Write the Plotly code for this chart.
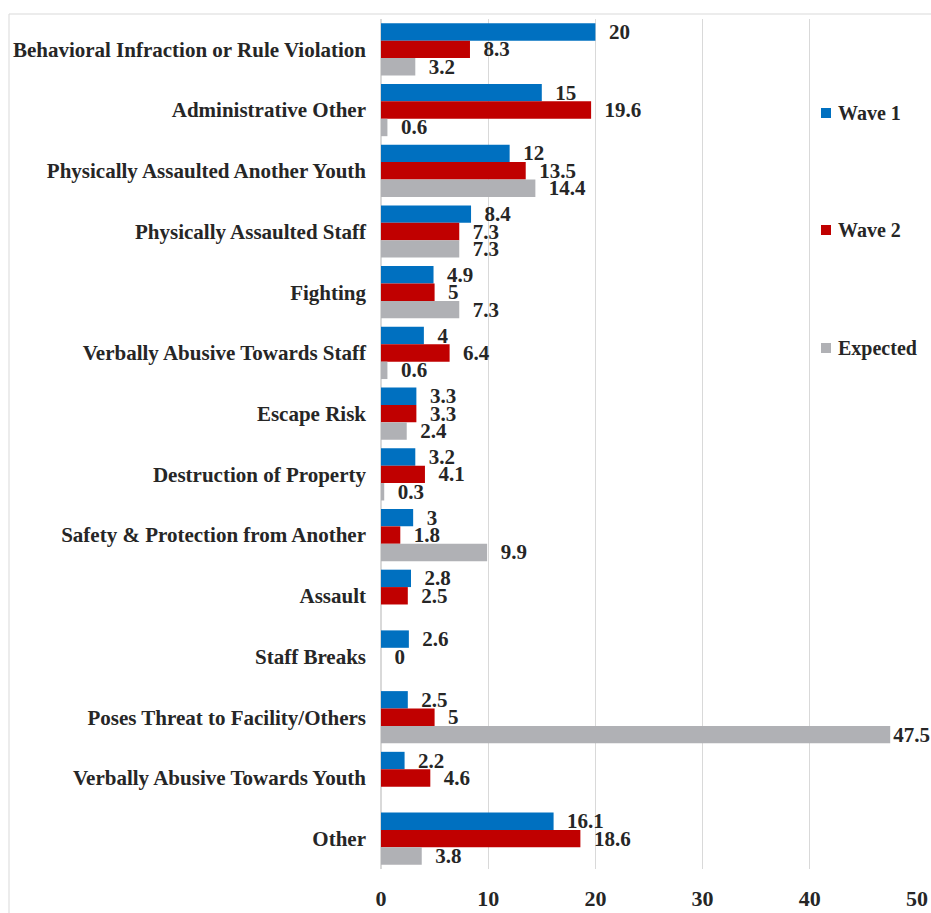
import plotly.graph_objects as go

categories = [
    "Behavioral Infraction or Rule Violation",
    "Administrative Other",
    "Physically Assaulted Another Youth",
    "Physically Assaulted Staff",
    "Fighting",
    "Verbally Abusive Towards Staff",
    "Escape Risk",
    "Destruction of Property",
    "Safety & Protection from Another",
    "Assault",
    "Staff Breaks",
    "Poses Threat to Facility/Others",
    "Verbally Abusive Towards Youth",
    "Other",
]
wave1 = [20, 15, 12, 8.4, 4.9, 4, 3.3, 3.2, 3, 2.8, 2.6, 2.5, 2.2, 16.1]
wave2 = [8.3, 19.6, 13.5, 7.3, 5, 6.4, 3.3, 4.1, 1.8, 2.5, 0, 5, 4.6, 18.6]
expected = [3.2, 0.6, 14.4, 7.3, 7.3, 0.6, 2.4, 0.3, 9.9, None, None, 47.5, None, 3.8]
x_ticks = [0, 10, 20, 30, 40, 50]
x_max = 50

FONT = "Liberation Serif"
TXT = "#262626"

series = [
    ("Wave 1", wave1, "#0070C0"),
    ("Wave 2", wave2, "#C00000"),
    ("Expected", expected, "#B0B1B5"),
]

# plot-area geometry (pixels) used to place the side key
W, H = 931, 913
ML, MR, MT, MB = 381, 14, 19, 44
PW, PH = W - ML - MR, H - MT - MB


def px_x(p):
    return (p - ML) / PW


def px_y(p):
    return 1 - (p - MT) / PH


fig = go.Figure()
for name, vals, color in series:
    # labels near the right edge sit tight against their bar
    templates = [
        "%{x}" if (v is not None and v > 0.9 * x_max) else "\u00a0\u00a0%{x}"
        for v in vals
    ]
    fig.add_trace(go.Bar(
        name=name,
        y=categories,
        x=vals,
        orientation="h",
        marker=dict(color=color, line=dict(width=0)),
        texttemplate=templates,
        textposition="outside",
        constraintext="none",
        cliponaxis=False,
        textfont=dict(family=FONT, size=21, color=TXT, weight="bold"),
        showlegend=False,
    ))

# side key: one coloured square and bold label per series, widely spaced
shapes = [dict(
    type="rect", xref="paper", yref="paper",
    x0=px_x(9), x1=1.06, y0=-0.08, y1=px_y(14),
    line=dict(color="#D9D9D9", width=1),
    fillcolor="rgba(0,0,0,0)",
    layer="below",
)]
annotations = []
key_rows = [113, 230, 348]
for (name, _, color), row in zip(series, key_rows):
    shapes.append(dict(
        type="rect", xref="paper", yref="paper",
        x0=px_x(821), x1=px_x(831), y0=px_y(row + 5), y1=px_y(row - 5),
        line=dict(width=0), fillcolor=color,
    ))
    annotations.append(dict(
        xref="paper", yref="paper", x=px_x(836), y=px_y(row),
        xanchor="left", yanchor="middle", showarrow=False,
        text=name,
        font=dict(family=FONT, size=20, color=TXT, weight="bold"),
    ))

fig.update_layout(
    width=W,
    height=H,
    margin=dict(l=ML, r=MR, t=MT, b=MB, autoexpand=False),
    paper_bgcolor="white",
    plot_bgcolor="white",
    barmode="group",
    bargap=0.14,
    bargroupgap=0,
    showlegend=False,
    font=dict(family=FONT, size=20, color=TXT, weight="bold"),
    xaxis=dict(
        range=[0, x_max],
        tickvals=x_ticks,
        showgrid=True,
        gridcolor="#D9D9D9",
        gridwidth=1,
        zeroline=True,
        zerolinecolor="#D9D9D9",
        showline=False,
        ticks="",
        automargin=False,
        ticklabelstandoff=14,
        tickfont=dict(family=FONT, size=22, color=TXT, weight="bold"),
    ),
    yaxis=dict(
        autorange="reversed",
        showgrid=False,
        ticks="",
        automargin=False,
        ticklabelstandoff=14,
        tickfont=dict(family=FONT, size=21, color=TXT, weight="bold"),
    ),
    shapes=shapes,
    annotations=annotations,
)

fig.write_html("out.html")
